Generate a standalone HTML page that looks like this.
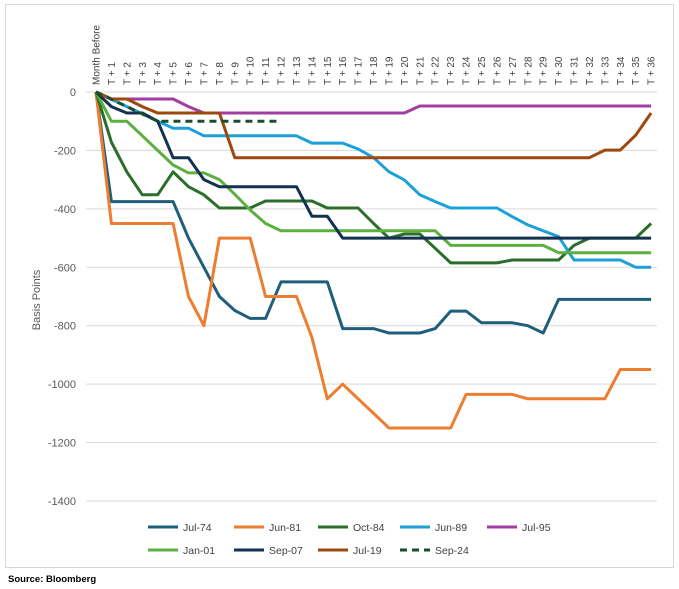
<!DOCTYPE html>
<html><head><meta charset="utf-8"><style>
html,body{margin:0;padding:0;background:#fff;}
svg{display:block;font-family:"Liberation Sans",sans-serif;}
</style></head><body>
<svg id="c" width="679" height="589" viewBox="0 0 679 589" xmlns="http://www.w3.org/2000/svg">
<rect x="0" y="0" width="679" height="589" fill="#fff"/>
<rect x="5.5" y="4.5" width="668" height="563" fill="none" stroke="#d9d9d9" stroke-width="1"/>
<g id="grid"></g>
<g id="ticks" font-size="11" fill="#595959"></g>
<g id="xl" font-size="10" fill="#404040"></g>
<text transform="translate(40,300) rotate(-90)" text-anchor="middle" font-size="11" fill="#595959">Basis Points</text>
<g id="series" fill="none" stroke-width="3" stroke-linejoin="round"></g>
<g id="legend" font-size="10.5" fill="#404040"></g>
<text x="8" y="582" font-size="9.5" font-weight="bold" fill="#000">Source: Bloomberg</text>
</svg>
<script>
var NS="http://www.w3.org/2000/svg";
function el(t,a,p,txt){var e=document.createElementNS(NS,t);for(var k in a)e.setAttribute(k,a[k]);if(txt!==undefined)e.textContent=txt;p.appendChild(e);return e;}
var x0=96,dx=15.42,y0=92,sy=58.43/200;
function X(i){return x0+i*dx;}function Y(v){return y0-v*sy;}
var g=document.getElementById('grid'),tk=document.getElementById('ticks'),xl=document.getElementById('xl');
for(var v=0;v>=-1400;v-=200){el('line',{x1:86,x2:657,y1:Y(v),y2:Y(v),stroke:'#d9d9d9','stroke-width':1},g);
el('text',{x:76,y:Y(v)+4,'text-anchor':'end'},tk,String(v));}
for(var i=0;i<=36;i++){var lab=i==0?'Month Before':'T + '+i;
el('text',{transform:'translate('+(X(i)+3.5)+',85) rotate(-90)','text-anchor':'start'},xl,lab);}
var S=[
['#1f5f7a',[0,-375,-375,-375,-375,-375,-500,-600,-700,-748,-775,-775,-650,-650,-650,-650,-810,-810,-810,-825,-825,-825,-810,-750,-750,-790,-790,-790,-800,-825,-710,-710,-710,-710,-710,-710,-710]],
['#ed7d31',[0,-450,-450,-450,-450,-450,-700,-800,-500,-500,-500,-700,-700,-700,-840,-1050,-1000,-1050,-1100,-1150,-1150,-1150,-1150,-1150,-1035,-1035,-1035,-1035,-1050,-1050,-1050,-1050,-1050,-1050,-950,-950,-950]],
['#2a6e2a',[0,-172,-273,-352,-352,-273,-324,-352,-397,-397,-397,-373,-373,-373,-373,-397,-397,-397,-450,-500,-486,-486,-535,-585,-585,-585,-585,-575,-575,-575,-575,-525,-500,-500,-500,-500,-450]],
['#1ba1d8',[0,-25,-50,-75,-100,-124,-124,-150,-150,-150,-150,-150,-150,-150,-175,-175,-175,-195,-225,-273,-301,-352,-375,-397,-397,-397,-397,-427,-455,-475,-495,-575,-575,-575,-575,-600,-600]],
['#a23ea0',[0,-24,-24,-24,-24,-24,-50,-72,-72,-72,-72,-72,-72,-72,-72,-72,-72,-72,-72,-72,-72,-48,-48,-48,-48,-48,-48,-48,-48,-48,-48,-48,-48,-48,-48,-48,-48]],
['#5db040',[0,-100,-100,-150,-200,-250,-277,-277,-300,-350,-404,-450,-475,-475,-475,-475,-475,-475,-475,-475,-475,-475,-475,-525,-525,-525,-525,-525,-525,-525,-550,-550,-550,-550,-550,-550,-550]],
['#12324f',[0,-50,-72,-72,-100,-225,-225,-300,-324,-324,-324,-324,-324,-324,-425,-425,-500,-500,-500,-500,-500,-500,-500,-500,-500,-500,-500,-500,-500,-500,-500,-500,-500,-500,-500,-500,-500]],
['#9e480e',[0,-24,-24,-50,-72,-72,-72,-72,-72,-225,-225,-225,-225,-225,-225,-225,-225,-225,-225,-225,-225,-225,-225,-225,-225,-225,-225,-225,-225,-225,-225,-225,-225,-199,-199,-148,-72]],
['#1a4d2e',[0,-25,-50,-75,-100,-100,-100,-100,-100,-100,-100,-100,-100],'7,5']
];
var sg=document.getElementById('series');
S.forEach(function(s){var p=s[1].map(function(v,i){return X(i).toFixed(1)+','+Y(v).toFixed(1);}).join(' ');
var a={points:p,stroke:s[0]};if(s[2])a['stroke-dasharray']=s[2];el('polyline',a,sg);});
var L=[['Jul-74',0,148,527],['Jun-81',1,234,527],['Oct-84',2,318,527],['Jun-89',3,400,527],['Jul-95',4,487,527],
['Jan-01',5,148,550],['Sep-07',6,234,550],['Jul-19',7,318,550],['Sep-24',8,400,550]];
var lg=document.getElementById('legend');
L.forEach(function(l){var s=S[l[1]];var a={x1:l[2],x2:l[2]+30,y1:l[3],y2:l[3],stroke:s[0],'stroke-width':3};
if(s[2])a['stroke-dasharray']=s[2];el('line',a,lg);el('text',{x:l[2]+35,y:l[3]+4},lg,l[0]);});
</script>
</body></html>
